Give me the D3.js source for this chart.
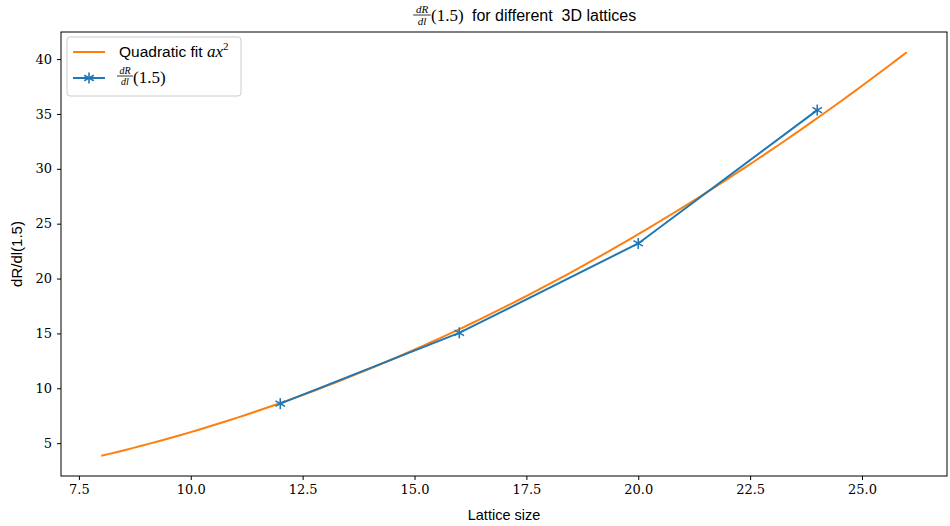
<!DOCTYPE html>
<html>
<head>
<meta charset="utf-8">
<script src="https://cdn.jsdelivr.net/npm/d3@7"></script>
<style>
  body { margin: 0; background: #fff; }
  .tick text { font-family: "DejaVu Serif", "Liberation Serif", serif; }
  .sans { font-family: "Liberation Sans", "DejaVu Sans", sans-serif; }
  .math { font-family: "Liberation Serif", "DejaVu Serif", serif; }
</style>
</head>
<body>
<div id="plot"></div>
<script>
// measured values dR/dl(1.5) per lattice size
const latticeSizes = [12, 16, 20, 24];
const derivValues = [8.6, 15.05, 23.2, 35.35];
// fitted coefficient and range of the fit curve
const fitA = 0.0601;
const fitRange = [8, 26];
const xTicks = [7.5, 10, 12.5, 15, 17.5, 20, 22.5, 25];
const yTicks = [5, 10, 15, 20, 25, 30, 35, 40];

const totalWidth = 950, totalHeight = 526;
const margins = {top: 32, bottom: 50, left: 61, right: 3};
const width = totalWidth - margins.left - margins.right;
const height = totalHeight - margins.top - margins.bottom;

const orange = '#ff7f0e', blue = '#1f77b4';

const svg = d3.select('#plot').append('svg')
  .attr('width', totalWidth)
  .attr('height', totalHeight);

// fit curve samples
const fitX = d3.range(0, 101).map(i => fitRange[0] + (fitRange[1] - fitRange[0]) * i / 100);
const fitPts = fitX.map(x => [x, fitA * x * x]);

// matplotlib style 5% margins
const xMin = fitRange[0], xMax = fitRange[1];
const yMin = fitA * xMin * xMin, yMax = fitA * xMax * xMax;
const xPad = (xMax - xMin) * 0.05, yPad = (yMax - yMin) * 0.05;

const x = d3.scaleLinear().domain([xMin - xPad, xMax + xPad]).range([0, width]);
const y = d3.scaleLinear().domain([yMin - yPad, yMax + yPad]).range([height, 0]);

const g = svg.append('g').attr('transform', 'translate(' + [margins.left, margins.top] + ')');

const xAxis = g.append('g')
  .attr('transform', 'translate(0,' + height + ')')
  .call(d3.axisBottom(x).tickValues(xTicks).tickFormat(d3.format('.1f')).tickSize(4).tickPadding(5));
const yAxis = g.append('g')
  .call(d3.axisLeft(y).tickValues(yTicks).tickFormat(d3.format('d')).tickSize(4).tickPadding(5));
[xAxis, yAxis].forEach(a => {
  a.select('.domain').remove();
  a.selectAll('.tick line').attr('stroke', '#000').attr('stroke-width', 1);
  a.selectAll('.tick text').attr('font-size', 13).attr('fill', '#000');
});

// frame
g.append('rect')
  .attr('width', width).attr('height', height)
  .attr('fill', 'none').attr('stroke', '#000').attr('stroke-width', 1);

const line = d3.line().x(d => x(d[0])).y(d => y(d[1]));

g.append('path')
  .datum(fitPts)
  .attr('d', line)
  .attr('fill', 'none').attr('stroke', orange).attr('stroke-width', 2);

const dataPts = latticeSizes.map((s, i) => [s, derivValues[i]]);
g.append('path')
  .datum(dataPts)
  .attr('d', line)
  .attr('fill', 'none').attr('stroke', blue).attr('stroke-width', 2);

function asterisk(sel, r) {
  [90, 30, 150].forEach(a => {
    const rad = a * Math.PI / 180;
    sel.append('line')
      .attr('x1', -r * Math.cos(rad)).attr('y1', -r * Math.sin(rad))
      .attr('x2', r * Math.cos(rad)).attr('y2', r * Math.sin(rad))
      .attr('stroke', blue).attr('stroke-width', 1.6);
  });
}

g.selectAll('g.marker')
  .data(dataPts)
  .enter()
  .append('g')
  .attr('class', 'marker')
  .attr('transform', d => 'translate(' + [x(d[0]), y(d[1])] + ')')
  .each(function() { asterisk(d3.select(this), 5.5); });

// fraction dR/dl drawn with two small texts and a bar
function fraction(parent, cx, cy, size) {
  const f = parent.append('g').attr('transform', 'translate(' + [cx, cy] + ')');
  f.append('text').attr('class', 'math').attr('font-style', 'italic').attr('font-size', size)
    .attr('text-anchor', 'middle').attr('y', -2).text('dR');
  f.append('line').attr('x1', -size * 0.8).attr('x2', size * 0.8).attr('y1', 0).attr('y2', 0)
    .attr('stroke', '#000').attr('stroke-width', 0.8);
  f.append('text').attr('class', 'math').attr('font-style', 'italic').attr('font-size', size)
    .attr('text-anchor', 'middle').attr('y', size - 1).text('dl');
  return f;
}

// title
const title = svg.append('g');
fraction(title, 422, 15, 11);
title.append('text').attr('class', 'math').attr('x', 431).attr('y', 21).attr('font-size', 17).text('(1.5)');
title.append('text').attr('class', 'sans').attr('x', 472).attr('y', 21).attr('font-size', 16)
  .attr('xml:space', 'preserve').text('for different  3D lattices');

// axis labels
svg.append('text').attr('class', 'sans')
  .attr('x', margins.left + width / 2).attr('y', 520)
  .attr('text-anchor', 'middle').attr('font-size', 14.5).text('Lattice size');
svg.append('text').attr('class', 'sans')
  .attr('transform', 'translate(22,' + (margins.top + height / 2) + ') rotate(-90)')
  .attr('text-anchor', 'middle').attr('font-size', 15).text('dR/dl(1.5)');

// legend
const legend = svg.append('g').attr('transform', 'translate(67,37)');
legend.append('rect')
  .attr('width', 174).attr('height', 59).attr('rx', 3)
  .attr('fill', '#fff').attr('fill-opacity', 0.8)
  .attr('stroke', '#ccc').attr('stroke-width', 1);
legend.append('line').attr('x1', 6).attr('x2', 38).attr('y1', 15).attr('y2', 15)
  .attr('stroke', orange).attr('stroke-width', 2);
const t1 = legend.append('text').attr('class', 'sans').attr('x', 52).attr('y', 20).attr('font-size', 15.5);
t1.append('tspan').text('Quadratic fit ');
t1.append('tspan').attr('class', 'math').attr('font-style', 'italic').attr('font-size', 17).text('ax');
t1.append('tspan').attr('class', 'math').attr('font-size', 11).attr('dy', -7).text('2');
legend.append('line').attr('x1', 6).attr('x2', 38).attr('y1', 41).attr('y2', 41)
  .attr('stroke', blue).attr('stroke-width', 2);
asterisk(legend.append('g').attr('transform', 'translate(22,41)'), 5.5);
fraction(legend, 58, 39, 10);
legend.append('text').attr('class', 'math').attr('x', 66).attr('y', 46).attr('font-size', 17).text('(1.5)');
</script>
</body>
</html>
